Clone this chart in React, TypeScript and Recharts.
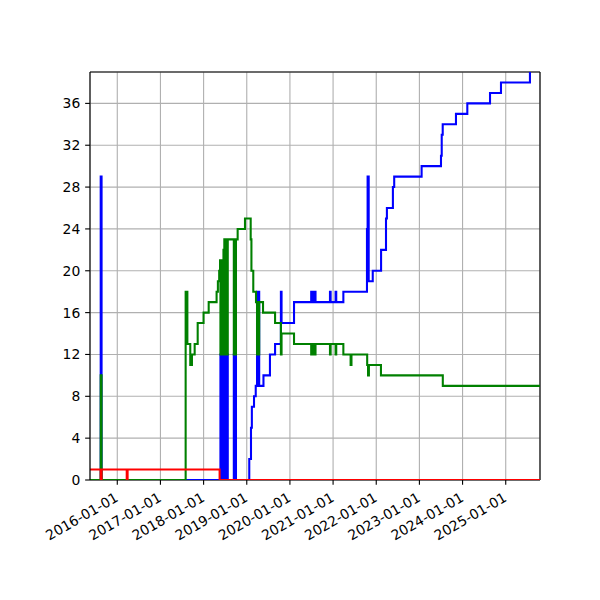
import React from "react";
import { LineChart, Line, XAxis, YAxis, CartesianGrid, ReferenceLine } from "recharts";

// time in decimal years, value
const X_TICKS = [2016, 2017, 2018, 2019, 2020, 2021, 2022, 2023, 2024, 2025];
const Y_TICKS = [0, 4, 8, 12, 16, 20, 24, 28, 32, 36];
const X_DOMAIN: [number, number] = [2015.368, 2025.794];
const Y_DOMAIN: [number, number] = [0, 39];

const BLUE: [number, number][] = [
  [2015.368, 0], [2015.616, 29], [2015.636, 0],
  [2018.39, 12], [2018.4, 0], [2018.41, 12], [2018.42, 0], [2018.43, 12], [2018.44, 0],
  [2018.45, 12], [2018.46, 0], [2018.47, 12], [2018.48, 0], [2018.49, 12], [2018.5, 0],
  [2018.51, 12], [2018.52, 0], [2018.53, 12], [2018.54, 0], [2018.55, 12], [2018.56, 0],
  [2018.7, 12], [2018.71, 0], [2018.72, 12], [2018.73, 0], [2018.74, 12], [2018.75, 0],
  [2019.058, 2], [2019.098, 5], [2019.118, 7], [2019.168, 8], [2019.208, 9],
  [2019.238, 18], [2019.248, 9], [2019.258, 18], [2019.268, 9], [2019.278, 18], [2019.288, 9],
  [2019.387, 10], [2019.537, 12], [2019.656, 13], [2019.791, 18], [2019.806, 15],
  [2020.095, 17],
  [2020.493, 18], [2020.503, 17], [2020.513, 18], [2020.523, 17], [2020.563, 18], [2020.573, 17],
  [2020.583, 18], [2020.593, 17],
  [2020.928, 18], [2020.943, 17], [2021.058, 18], [2021.073, 17],
  [2021.238, 18], [2021.785, 24], [2021.8, 29], [2021.825, 19],
  [2021.919, 20], [2022.112, 22], [2022.226, 25], [2022.247, 26], [2022.386, 28], [2022.416, 29],
  [2023.051, 30], [2023.5, 31], [2023.517, 33], [2023.54, 34], [2023.847, 35],
  [2024.11, 36], [2024.636, 37], [2024.89, 38], [2025.561, 41], [2025.794, 41],
];

const GREEN: [number, number][] = [
  [2015.368, 0], [2015.616, 10], [2015.636, 0],
  [2017.584, 18], [2017.624, 13], [2017.691, 11], [2017.73, 12], [2017.793, 13], [2017.863, 15],
  [2017.999, 16], [2018.118, 17], [2018.301, 18], [2018.331, 19], [2018.361, 20], [2018.381, 21],
  [2018.39, 12], [2018.4, 21], [2018.41, 12], [2018.42, 21], [2018.43, 12], [2018.44, 21],
  [2018.45, 12], [2018.46, 22], [2018.47, 12], [2018.48, 23], [2018.49, 12], [2018.5, 23],
  [2018.51, 12], [2018.52, 23], [2018.53, 12], [2018.54, 23], [2018.55, 12], [2018.56, 23],
  [2018.7, 12], [2018.71, 23], [2018.72, 12], [2018.73, 23], [2018.74, 12], [2018.75, 23],
  [2018.789, 24], [2018.959, 25], [2019.091, 23], [2019.108, 20], [2019.151, 18], [2019.214, 17],
  [2019.238, 12], [2019.248, 17], [2019.258, 12], [2019.268, 17], [2019.278, 12], [2019.288, 17],
  [2019.377, 16], [2019.656, 15], [2019.791, 12], [2019.806, 14], [2020.095, 13],
  [2020.493, 12], [2020.503, 13], [2020.513, 12], [2020.523, 13], [2020.563, 12], [2020.573, 13],
  [2020.583, 12], [2020.593, 13],
  [2020.928, 12], [2020.943, 13], [2021.058, 12], [2021.073, 13],
  [2021.238, 12], [2021.406, 11], [2021.426, 12],
  [2021.79, 11], [2021.81, 10], [2021.83, 11], [2022.109, 10], [2023.542, 9], [2025.794, 9],
];

const RED: [number, number][] = [
  [2015.368, 1], [2015.616, 0], [2015.636, 1], [2016.219, 0], [2016.239, 1],
  [2018.371, 0], [2025.794, 0],
];

const toRows = (pts: [number, number][]) => pts.map(([t, v]) => ({ t, v }));
const blueRows = toRows(BLUE);
const greenRows = toRows(GREEN);
const redRows = toRows(RED);

const FONT = "DejaVu Sans";
const LW = 2.08;
const SW = 1.11;
const TICK = 4.86;

const XTick = (props: any) => {
  const { x, y, payload } = props;
  const ax = x + 2;
  const ay = y + 15.5;
  return (
    <text
      x={ax}
      y={ay}
      textAnchor="end"
      transform={`rotate(-30 ${ax} ${ay})`}
      fontFamily={FONT}
      fontSize={13.9}
      fill="#000"
    >
      {`${payload.value}-01-01`}
    </text>
  );
};

const YTick = (props: any) => {
  const { x, y, payload } = props;
  return (
    <text x={x} y={y} dy="0.36em" textAnchor="end" fontFamily={FONT} fontSize={13.9} fill="#000">
      {payload.value}
    </text>
  );
};

export default function App() {
  return (
    <div style={{ position: "absolute", left: 0, top: 0, width: 600, height: 600, background: "#fff" }}>
      <LineChart width={600} height={600} margin={{ top: 72, right: 60, bottom: 0, left: 0 }}>
        <CartesianGrid stroke="#b0b0b0" strokeWidth={SW} />
        <XAxis
          dataKey="t"
          type="number"
          domain={X_DOMAIN}
          ticks={X_TICKS}
          allowDataOverflow
          height={120}
          tickSize={TICK}
          tickMargin={0}
          tick={<XTick />}
          tickLine={{ stroke: "#000", strokeWidth: SW }}
          axisLine={false}
        />
        <YAxis
          type="number"
          domain={Y_DOMAIN}
          ticks={Y_TICKS}
          allowDataOverflow
          width={90}
          tickSize={TICK}
          tickMargin={TICK}
          tick={<YTick />}
          tickLine={{ stroke: "#000", strokeWidth: SW }}
          axisLine={{ stroke: "#000", strokeWidth: SW }}
        />
        <ReferenceLine y={0} stroke="#000" strokeWidth={SW} />
        <ReferenceLine y={39} stroke="#000" strokeWidth={SW} />
        <ReferenceLine x={2025.794} stroke="#000" strokeWidth={SW} />
        <Line data={blueRows} dataKey="v" type="stepAfter" stroke="#0000ff" strokeWidth={LW} dot={false} activeDot={false} isAnimationActive={false} />
        <Line data={greenRows} dataKey="v" type="stepAfter" stroke="#008000" strokeWidth={LW} dot={false} activeDot={false} isAnimationActive={false} />
        <Line data={redRows} dataKey="v" type="stepAfter" stroke="#ff0000" strokeWidth={LW} dot={false} activeDot={false} isAnimationActive={false} />
      </LineChart>
    </div>
  );
}
